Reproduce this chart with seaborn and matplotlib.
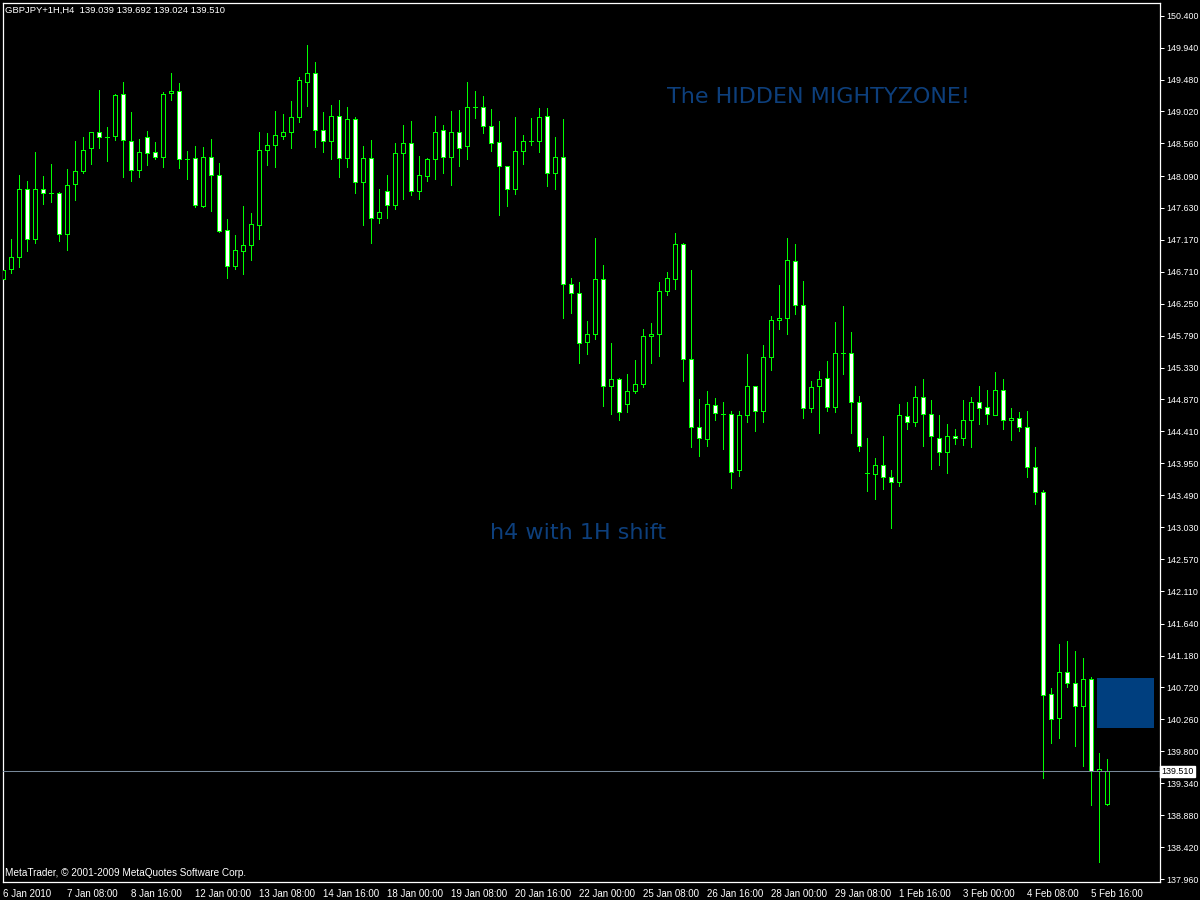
import numpy as np
import pandas as pd
import matplotlib.pyplot as plt
import seaborn as sns
from matplotlib.patches import Rectangle

# H4 candles, GBPJPY (+1H shift), 6 Jan - 5 Feb 2010
opens = [146.60, 146.75, 146.93, 147.91, 147.18, 147.91, 147.84, 147.84, 147.25, 147.97,
         148.16, 148.49, 148.72, 148.65, 148.66, 149.27, 148.60, 148.17, 148.65, 148.43,
         148.36, 149.28, 149.31, 148.34, 148.35, 147.66, 148.37, 148.11, 147.31, 146.80,
         147.01, 147.09, 147.39, 148.46, 148.53, 148.66, 148.72, 148.94, 149.45, 149.57,
         148.75, 148.59, 148.96, 148.35, 148.91, 148.00, 148.35, 147.48, 147.88, 147.67,
         148.42, 148.56, 147.87, 148.09, 148.33, 148.75, 148.36, 148.72, 148.52, 149.09,
         149.08, 148.81, 148.58, 148.24, 147.91, 148.45, 148.59, 148.59, 148.95, 148.13,
         148.37, 146.54, 146.41, 145.70, 145.81, 146.60, 145.06, 145.16, 144.81, 144.99,
         145.10, 145.79, 145.82, 146.43, 146.60, 147.11, 145.45, 144.48, 144.30, 144.79,
         144.66, 144.66, 143.85, 144.64, 145.07, 144.71, 145.48, 146.01, 146.04, 146.86,
         146.23, 144.74, 145.06, 145.18, 144.76, 145.54, 145.54, 144.84, 143.81, 143.79,
         143.92, 143.75, 143.68, 144.63, 144.54, 144.90, 144.66, 144.32, 144.11, 144.35,
         144.31, 144.57, 144.84, 144.76, 144.65, 145.00, 144.57, 144.60, 144.47, 143.89,
         143.53, 140.62, 140.28, 140.94, 140.79, 140.46, 140.84, 139.51, 139.039]
highs = [147.15, 147.18, 148.10, 148.02, 148.44, 148.09, 148.26, 147.86, 148.19, 148.59,
         148.65, 148.72, 149.33, 148.80, 149.27, 149.44, 149.01, 148.62, 148.74, 148.58,
         149.30, 149.57, 149.43, 148.45, 148.52, 148.51, 148.62, 148.28, 147.47, 147.24,
         147.66, 147.55, 148.72, 148.71, 149.03, 148.98, 149.17, 149.51, 149.98, 149.73,
         149.01, 149.11, 149.19, 149.08, 148.94, 148.52, 148.61, 147.91, 148.11, 148.56,
         148.82, 148.88, 148.38, 148.35, 148.95, 148.83, 149.03, 149.04, 149.44, 149.31,
         149.24, 149.06, 148.88, 148.24, 148.94, 148.68, 148.93, 149.07, 149.07, 148.65,
         148.91, 146.62, 146.56, 146.00, 147.19, 146.81, 145.68, 145.18, 145.24, 145.44,
         145.88, 145.97, 146.56, 146.70, 147.27, 147.13, 146.73, 144.87, 144.99, 144.89,
         144.84, 144.70, 144.71, 145.52, 145.07, 145.66, 146.07, 146.52, 147.19, 147.11,
         146.58, 145.13, 145.28, 145.42, 145.98, 146.21, 145.84, 144.92, 144.32, 144.02,
         144.35, 143.86, 144.80, 144.84, 145.07, 145.16, 144.86, 144.64, 144.51, 144.45,
         144.86, 144.90, 145.07, 145.00, 145.26, 145.17, 144.74, 144.69, 144.70, 144.19,
         143.56, 140.71, 141.35, 141.39, 141.25, 141.14, 140.87, 139.77, 139.692]
lows = [145.97, 146.69, 146.78, 147.01, 147.12, 147.69, 147.71, 147.16, 147.03, 147.74,
        148.13, 148.27, 148.50, 148.31, 148.61, 148.08, 148.02, 148.07, 148.25, 148.33,
        148.22, 149.19, 148.20, 148.04, 147.65, 147.65, 147.59, 147.29, 146.62, 146.75,
        146.68, 146.88, 147.18, 148.25, 148.22, 148.62, 148.50, 148.87, 149.10, 148.51,
        148.43, 148.34, 148.07, 148.22, 147.85, 147.39, 147.13, 147.42, 147.49, 147.61,
        147.76, 147.82, 147.76, 148.02, 148.05, 148.14, 147.96, 148.24, 148.34, 148.93,
        148.71, 148.45, 147.53, 147.66, 147.83, 148.27, 148.53, 148.44, 147.95, 147.91,
        146.05, 146.12, 145.40, 145.52, 145.74, 144.78, 144.66, 144.58, 144.69, 144.96,
        145.05, 145.40, 145.50, 146.37, 146.46, 145.13, 144.19, 144.05, 144.20, 144.58,
        144.15, 143.60, 143.77, 144.55, 144.41, 144.54, 145.30, 145.88, 145.82, 146.10,
        144.61, 144.69, 144.39, 144.71, 144.69, 145.23, 144.39, 144.13, 143.55, 143.43,
        143.58, 143.02, 143.63, 144.44, 144.49, 144.20, 143.87, 143.92, 143.81, 144.23,
        144.21, 144.18, 144.51, 144.51, 144.64, 144.44, 144.29, 144.42, 143.76, 143.37,
        139.42, 139.92, 139.99, 140.72, 139.87, 139.59, 139.03, 138.21, 139.024]
closes = [146.74, 146.92, 147.91, 147.18, 147.91, 147.84, 147.84, 147.26, 147.96, 148.16,
          148.47, 148.72, 148.65, 148.65, 149.26, 148.61, 148.17, 148.43, 148.42, 148.36,
          149.27, 149.32, 148.33, 148.34, 147.67, 148.36, 148.11, 147.30, 146.80, 147.02,
          147.09, 147.40, 148.46, 148.53, 148.68, 148.72, 148.94, 149.47, 149.57, 148.75,
          148.60, 148.95, 148.35, 148.91, 148.00, 148.35, 147.48, 147.57, 147.67, 148.42,
          148.56, 147.87, 148.10, 148.33, 148.73, 148.36, 148.72, 148.50, 149.09, 149.09,
          148.81, 148.56, 148.24, 147.91, 148.45, 148.60, 148.59, 148.94, 148.13, 148.37,
          146.53, 146.41, 145.69, 145.81, 146.60, 145.06, 145.16, 144.69, 144.99, 145.10,
          145.79, 145.82, 146.43, 146.62, 147.11, 145.45, 144.48, 144.32, 144.80, 144.67,
          144.66, 143.83, 144.64, 145.07, 144.70, 145.48, 146.01, 146.04, 146.88, 146.23,
          144.74, 145.05, 145.16, 144.76, 145.54, 145.54, 144.84, 144.20, 143.81, 143.92,
          143.75, 143.68, 144.64, 144.54, 144.90, 144.66, 144.34, 144.11, 144.35, 144.32,
          144.58, 144.83, 144.74, 144.66, 145.01, 144.57, 144.60, 144.47, 143.89, 143.53,
          140.61, 140.27, 140.94, 140.79, 140.45, 140.84, 139.51, 139.54, 139.510]

time_labels = ["6 Jan 2010", "7 Jan 08:00", "8 Jan 16:00", "12 Jan 00:00", "13 Jan 08:00",
               "14 Jan 16:00", "18 Jan 00:00", "19 Jan 08:00", "20 Jan 16:00", "22 Jan 00:00",
               "25 Jan 08:00", "26 Jan 16:00", "28 Jan 00:00", "29 Jan 08:00", "1 Feb 16:00",
               "3 Feb 00:00", "4 Feb 08:00", "5 Feb 16:00"]
price_ticks = [150.400, 149.940, 149.480, 149.020, 148.560, 148.090, 147.630, 147.170,
               146.710, 146.250, 145.790, 145.330, 144.870, 144.410, 143.950, 143.490,
               143.030, 142.570, 142.110, 141.640, 141.180, 140.720, 140.260, 139.800,
               139.340, 138.880, 138.420, 137.960]

bid = 139.510
zone_top, zone_bottom = 140.86, 140.13
zone_start, zone_end = 136.7, 143.8

sns.set_theme(style="dark", rc={
    "axes.facecolor": "black", "figure.facecolor": "black",
    "axes.edgecolor": "white", "text.color": "white",
    "xtick.color": "white", "ytick.color": "white", "axes.grid": False,
})
plt.rcParams["font.family"] = ["Liberation Sans", "DejaVu Sans"]

df = pd.DataFrame({"open": opens, "high": highs, "low": lows, "close": closes})
df["x"] = np.arange(len(df))
df["bear"] = df["close"] < df["open"]

fig = plt.figure(figsize=(12, 9), dpi=100)
ax = fig.add_axes([3 / 1200, 18 / 900, 1157 / 1200, 879 / 900])

lime = "#00ff00"
ax.vlines(df["x"], df["low"], df["high"], color=lime, lw=0.72, zorder=2, antialiased=False)
ax.bar(df["x"], df["close"] - df["open"], bottom=df["open"], width=0.5,
       color=np.where(df["bear"], "white", "black"), edgecolor=lime,
       linewidth=0.72, zorder=3, antialiased=False)

# zone + bid line
ax.add_patch(Rectangle((zone_start, zone_bottom), zone_end - zone_start, zone_top - zone_bottom,
                       facecolor="#003f7f", edgecolor="none", zorder=4))
ax.axhline(bid, color="#778899", lw=0.75, zorder=5)
ax.text(1.0015, bid, f"{bid:.3f}", transform=ax.get_yaxis_transform(), ha="left", va="center",
        color="black", fontsize=6.4, clip_on=False, zorder=10,
        bbox=dict(boxstyle="square,pad=0.15", facecolor="white", edgecolor="white"))

ax.set_xlim(-0.04, 144.6)
ax.set_ylim(137.917, 150.583)

ax.set_xticks(range(0, 8 * len(time_labels), 8))
ax.set_xticklabels(time_labels)
for lbl in ax.get_xticklabels():
    lbl.set_ha("left")
ax.tick_params(axis="x", direction="out", length=4, width=0.72, labelsize=7, pad=1)

ax.yaxis.tick_right()
ax.set_yticks(price_ticks)
ax.set_yticklabels([f"{v:.3f}" for v in price_ticks])
ax.tick_params(axis="y", direction="out", length=3, width=0.72, labelsize=6.4, pad=1.5)
for s in ax.spines.values():
    s.set_color("white")
    s.set_linewidth(0.9)

# texts
ax.text(0.002, 0.997, "GBPJPY+1H,H4  139.039 139.692 139.024 139.510", transform=ax.transAxes,
        ha="left", va="top", fontsize=6.8, color="white")
ax.text(0.002, 0.004, "MetaTrader, © 2001-2009 MetaQuotes Software Corp.", transform=ax.transAxes,
        ha="left", va="bottom", fontsize=7.2, color="white")
ax.text(83.0, 149.23, "The HIDDEN MIGHTYZONE!", color="#0d3f7c", fontsize=16,
        ha="left", va="center", family="DejaVu Sans")
ax.text(60.8, 142.95, "h4 with 1H shift", color="#0d3f7c", fontsize=16,
        ha="left", va="center", family="DejaVu Sans")

fig.savefig("out.png", dpi=100, facecolor="black")
